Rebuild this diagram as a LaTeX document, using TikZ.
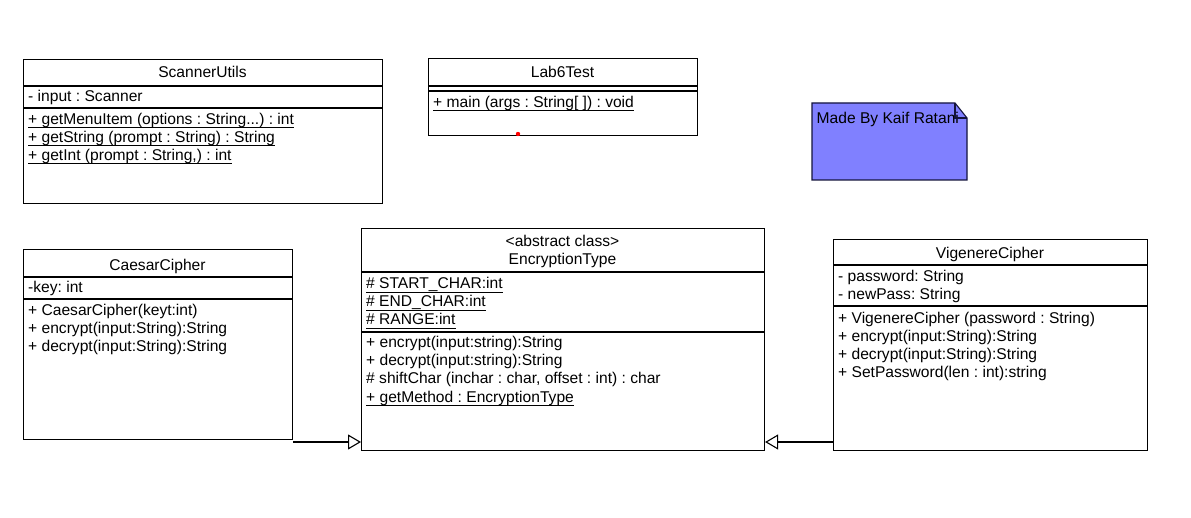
\documentclass[tikz,border=0pt]{standalone}
\usepackage{fontspec}
\setmainfont{Liberation Sans}
\usetikzlibrary{arrows.meta}
\definecolor{notefill}{RGB}{128,128,255}
\definecolor{noteline}{RGB}{20,20,60}
\frenchspacing
\newcommand\myul[1]{\setbox0\hbox{#1}\rlap{\rule[-3.6pt]{\wd0}{1pt}}\box0}
\begin{document}
\begin{tikzpicture}[x=1pt,y=-1pt,
  box/.style={draw=black, line width=1.1pt, fill=white, rectangle, inner sep=0pt, anchor=north west},
  sep/.style={draw=black, line width=1.1pt},
  txt/.style={anchor=base west, inner sep=0pt, font=\fontsize{15.6}{18}\selectfont\frenchspacing},
  ttl/.style={anchor=base, inner sep=0pt, font=\fontsize{15.6}{18}\selectfont\frenchspacing},
  gen/.style={draw=black, line width=1.1pt, -{Triangle[open, length=13pt, width=15pt, line width=1.1pt]}}
]
\fill[white] (0,0) rectangle (1191,518);
\useasboundingbox (0,0) rectangle (1191,518);

% ScannerUtils
\node[box, minimum width=359, minimum height=144] (scanner) at (23,59) {};
\draw[sep] (23,86) -- (382,86);
\draw[sep] (23,108) -- (382,108);
\node[ttl] (scT) at (202.5,78) {ScannerUtils};
\node[txt] (scA) at (28,102) {- input : Scanner};
\node[txt] (scM1) at (28,124.5) {\myul{+ getMenuItem (options : String...) : int}};
\node[txt] (scM2) at (28,142.5) {\myul{+ getString (prompt : String) : String}};
\node[txt] (scM3) at (28,160.5) {\myul{+ getInt (prompt : String,) : int}};

% Lab6Test
\node[box, minimum width=269, minimum height=77] (lab) at (428,58) {};
\draw[sep] (428,86) -- (697,86);
\draw[sep] (428,91) -- (697,91);
\node[ttl] (labT) at (562.5,78) {Lab6Test};
\node[txt] (labM) at (433,107.5) {\myul{+ main (args : String[ ]) : void}};
\fill[red] (518,134) circle (2.2);

% Note
\draw[draw=noteline, line width=1.1pt, fill=notefill] (812,103) -- (955,103) -- (967,118) -- (967,180) -- (812,180) -- cycle;
\node[txt] (noteT) at (816.5,123.3) {Made By Kaif Ratani};
\draw[draw=noteline, line width=1.1pt] (955,103) -- (955,118) -- (967,118);

% CaesarCipher
\node[box, minimum width=269, minimum height=190] (caesar) at (23,249) {};
\draw[sep] (23,277) -- (292,277);
\draw[sep] (23,299) -- (292,299);
\node[ttl] (caT) at (157.5,271) {CaesarCipher};
\node[txt] (caA) at (28,292.5) {-key: int};
\node[txt] (caM1) at (28,316) {+ CaesarCipher(keyt:int)};
\node[txt] (caM2) at (28,334) {+ encrypt(input:String):String};
\node[txt] (caM3) at (28,352) {+ decrypt(input:String):String};

% EncryptionType
\node[box, minimum width=403, minimum height=222] (enc) at (361,228) {};
\draw[sep] (361,272) -- (764,272);
\draw[sep] (361,332) -- (764,332);
\node[ttl] (enS) at (562.5,246.5) {<abstract class>};
\node[ttl] (enT) at (562.5,264.5) {EncryptionType};
\node[txt] (enA1) at (366,289) {\myul{\# START\_CHAR:int}};
\node[txt] (enA2) at (366,307) {\myul{\# END\_CHAR:int}};
\node[txt] (enA3) at (366,325) {\myul{\# RANGE:int}};
\node[txt] (enM1) at (366,348) {+ encrypt(input:string):String};
\node[txt] (enM2) at (366,366) {+ decrypt(input:string):String};
\node[txt] (enM3) at (366,384) {\# shiftChar (inchar : char, offset : int) : char};
\node[txt] (enM4) at (366,402) {\myul{+ getMethod : EncryptionType}};

% VigenereCipher
\node[box, minimum width=314, minimum height=211] (vig) at (833,239) {};
\draw[sep] (833,265) -- (1147,265);
\draw[sep] (833,306) -- (1147,306);
\node[ttl] (viT) at (990,258.5) {VigenereCipher};
\node[txt] (viA1) at (838,281.5) {- password: String};
\node[txt] (viA2) at (838,299.5) {- newPass: String};
\node[txt] (viM1) at (838,323.3) {+ VigenereCipher (password : String)};
\node[txt] (viM2) at (838,341.3) {+ encrypt(input:String):String};
\node[txt] (viM3) at (838,359.3) {+ decrypt(input:String):String};
\node[txt] (viM4) at (838,377.3) {+ SetPassword(len : int):string};

% Generalizations
\coordinate (caOut) at (caesar.south east |- 0,442);
\coordinate (viOut) at (vig.south west |- 0,442);
\draw[gen] (caOut) -- (caOut -| enc.west);
\draw[gen] (viOut) -- (viOut -| enc.east);
\end{tikzpicture}
\end{document}
